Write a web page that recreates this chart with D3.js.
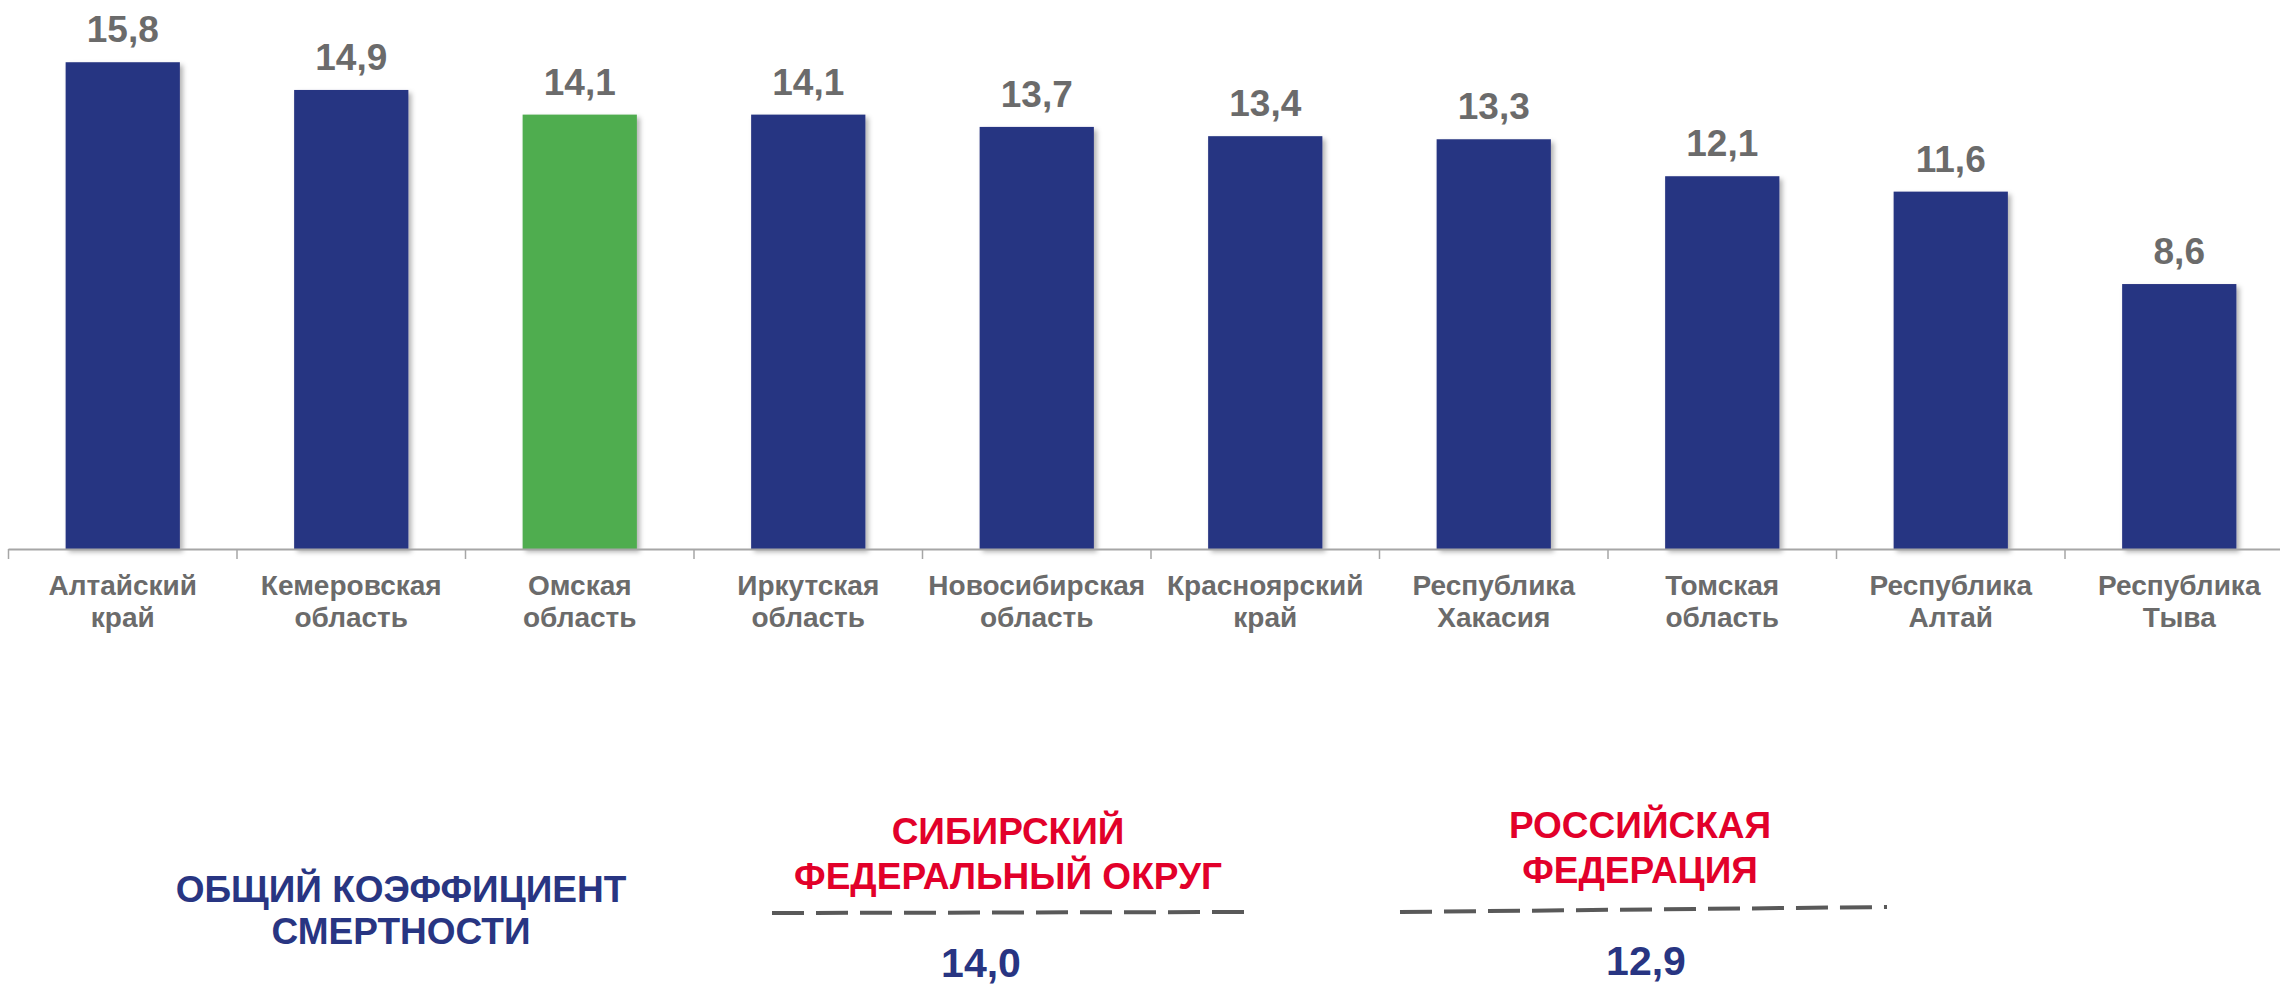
<!doctype html>
<html lang="ru">

<head>
    <meta charset="UTF-8" />
    <script src="https://d3js.org/d3.v7.min.js"></script>
    <title>Общий коэффициент смертности</title>
    <style>
        body { margin: 0; background: #fff; }
        svg text { font-family: "Liberation Sans", Arial, sans-serif; font-weight: bold; }
    </style>
</head>

<body>
    <div id="chart"></div>
    <script>
        // Data
        const regions = [
            ["Алтайский", "край"],
            ["Кемеровская", "область"],
            ["Омская", "область"],
            ["Иркутская", "область"],
            ["Новосибирская", "область"],
            ["Красноярский", "край"],
            ["Республика", "Хакасия"],
            ["Томская", "область"],
            ["Республика", "Алтай"],
            ["Республика", "Тыва"]
        ]
        const rates = [15.8, 14.9, 14.1, 14.1, 13.7, 13.4, 13.3, 12.1, 11.6, 8.6]
        const highlighted = "Омская"

        const indicatorTitle = ["ОБЩИЙ КОЭФФИЦИЕНТ", "СМЕРТНОСТИ"]
        const referenceNames = [["СИБИРСКИЙ", "ФЕДЕРАЛЬНЫЙ ОКРУГ"], ["РОССИЙСКАЯ", "ФЕДЕРАЦИЯ"]]
        const referenceValues = [14.0, 12.9]

        const W = 2280, H = 987
        const NAVY = "#283582", GREEN = "#4fad4f", GRAY = "#6b6b6b", RED = "#e2002a"

        const fmt = d3.formatLocale({ decimal: ",", thousands: " ", grouping: [3], currency: ["", ""] }).format(".1f")

        const svg = d3.select("#chart").append("svg")
            .attr("width", W)
            .attr("height", H)

        const defs = svg.append("defs")
        defs.append("filter").attr("id", "shadow")
            .attr("x", "-10%").attr("y", "-10%").attr("width", "130%").attr("height", "130%")
            .append("feDropShadow")
            .attr("dx", 3).attr("dy", 3).attr("stdDeviation", 2.5)
            .attr("flood-color", "#000").attr("flood-opacity", 0.3)

        const data = regions.map((r, i) => ({ key: r.join(" "), lines: r, value: rates[i] }))

        // Scales
        const x0 = d3.scaleBand().domain(data.map(d => d.key)).range([8.5, 2293.5])
        const x = d3.scaleBand().domain(data.map(d => d.key)).range([8.5, 2293.5])
            .paddingInner(0.5).paddingOuter(0.25)
        const y = d3.scaleLinear().domain([0, 17.82]).range([549, 0])

        // Bars
        svg.append("g").selectAll("rect")
            .data(data)
            .join("rect")
            .attr("x", d => x(d.key))
            .attr("y", d => y(d.value))
            .attr("width", x.bandwidth())
            .attr("height", d => y(0) - y(d.value))
            .attr("fill", d => d.lines[0] === highlighted ? GREEN : NAVY)
            .attr("filter", "url(#shadow)")

        // Value labels
        svg.append("g").selectAll("text")
            .data(data)
            .join("text")
            .attr("x", d => x(d.key) + x.bandwidth() / 2)
            .attr("y", d => y(d.value) - 20)
            .attr("text-anchor", "middle")
            .attr("font-size", 37)
            .attr("fill", GRAY)
            .text(d => fmt(d.value))

        // Axis
        const axis = svg.append("g")
        axis.append("line")
            .attr("x1", 8.5).attr("x2", W)
            .attr("y1", y(0) + 0.5).attr("y2", y(0) + 0.5)
            .attr("stroke", "#a6a6a6").attr("stroke-width", 2)
        axis.selectAll(".tick")
            .data(data)
            .join("line")
            .attr("class", "tick")
            .attr("x1", d => x0(d.key)).attr("x2", d => x0(d.key))
            .attr("y1", y(0)).attr("y2", y(0) + 10)
            .attr("stroke", "#a6a6a6").attr("stroke-width", 1.5)

        // Category labels
        const cat = svg.append("g").selectAll("text")
            .data(data)
            .join("text")
            .attr("text-anchor", "middle")
            .attr("font-size", 28)
            .attr("fill", GRAY)
        cat.selectAll("tspan")
            .data(d => d.lines.map((t, i) => ({ t, i, cx: x0(d.key) + x0.bandwidth() / 2 })))
            .join("tspan")
            .attr("x", d => d.cx)
            .attr("y", d => 595 + d.i * 32)
            .text(d => d.t)

        // Bottom summary
        const title = svg.append("text")
            .attr("text-anchor", "middle")
            .attr("font-size", 37)
            .attr("fill", NAVY)
        title.selectAll("tspan")
            .data(indicatorTitle)
            .join("tspan")
            .attr("x", 401)
            .attr("y", (d, i) => 902 + i * 42)
            .text(d => d)

        const refs = [
            { cx: 1008, nameY: 844, lineX: [772, 1244], lineY: [913, 912], valueX: 981, valueY: 977 },
            { cx: 1640, nameY: 838, lineX: [1400, 1887], lineY: [912, 907], valueX: 1646, valueY: 975 }
        ]

        refs.forEach((r, k) => {
            const g = svg.append("g")
            g.append("text")
                .attr("text-anchor", "middle")
                .attr("font-size", 37)
                .attr("fill", RED)
                .selectAll("tspan")
                .data(referenceNames[k])
                .join("tspan")
                .attr("x", r.cx)
                .attr("y", (d, i) => r.nameY + i * 45)
                .text(d => d)

            g.append("line")
                .attr("x1", r.lineX[0]).attr("x2", r.lineX[1])
                .attr("y1", r.lineY[0]).attr("y2", r.lineY[1])
                .attr("stroke", "#595959")
                .attr("stroke-width", 4)
                .attr("stroke-dasharray", "32 12")

            g.append("text")
                .attr("x", r.valueX)
                .attr("y", r.valueY)
                .attr("text-anchor", "middle")
                .attr("font-size", 41)
                .attr("fill", NAVY)
                .text(fmt(referenceValues[k]))
        })
    </script>
</body>

</html>
